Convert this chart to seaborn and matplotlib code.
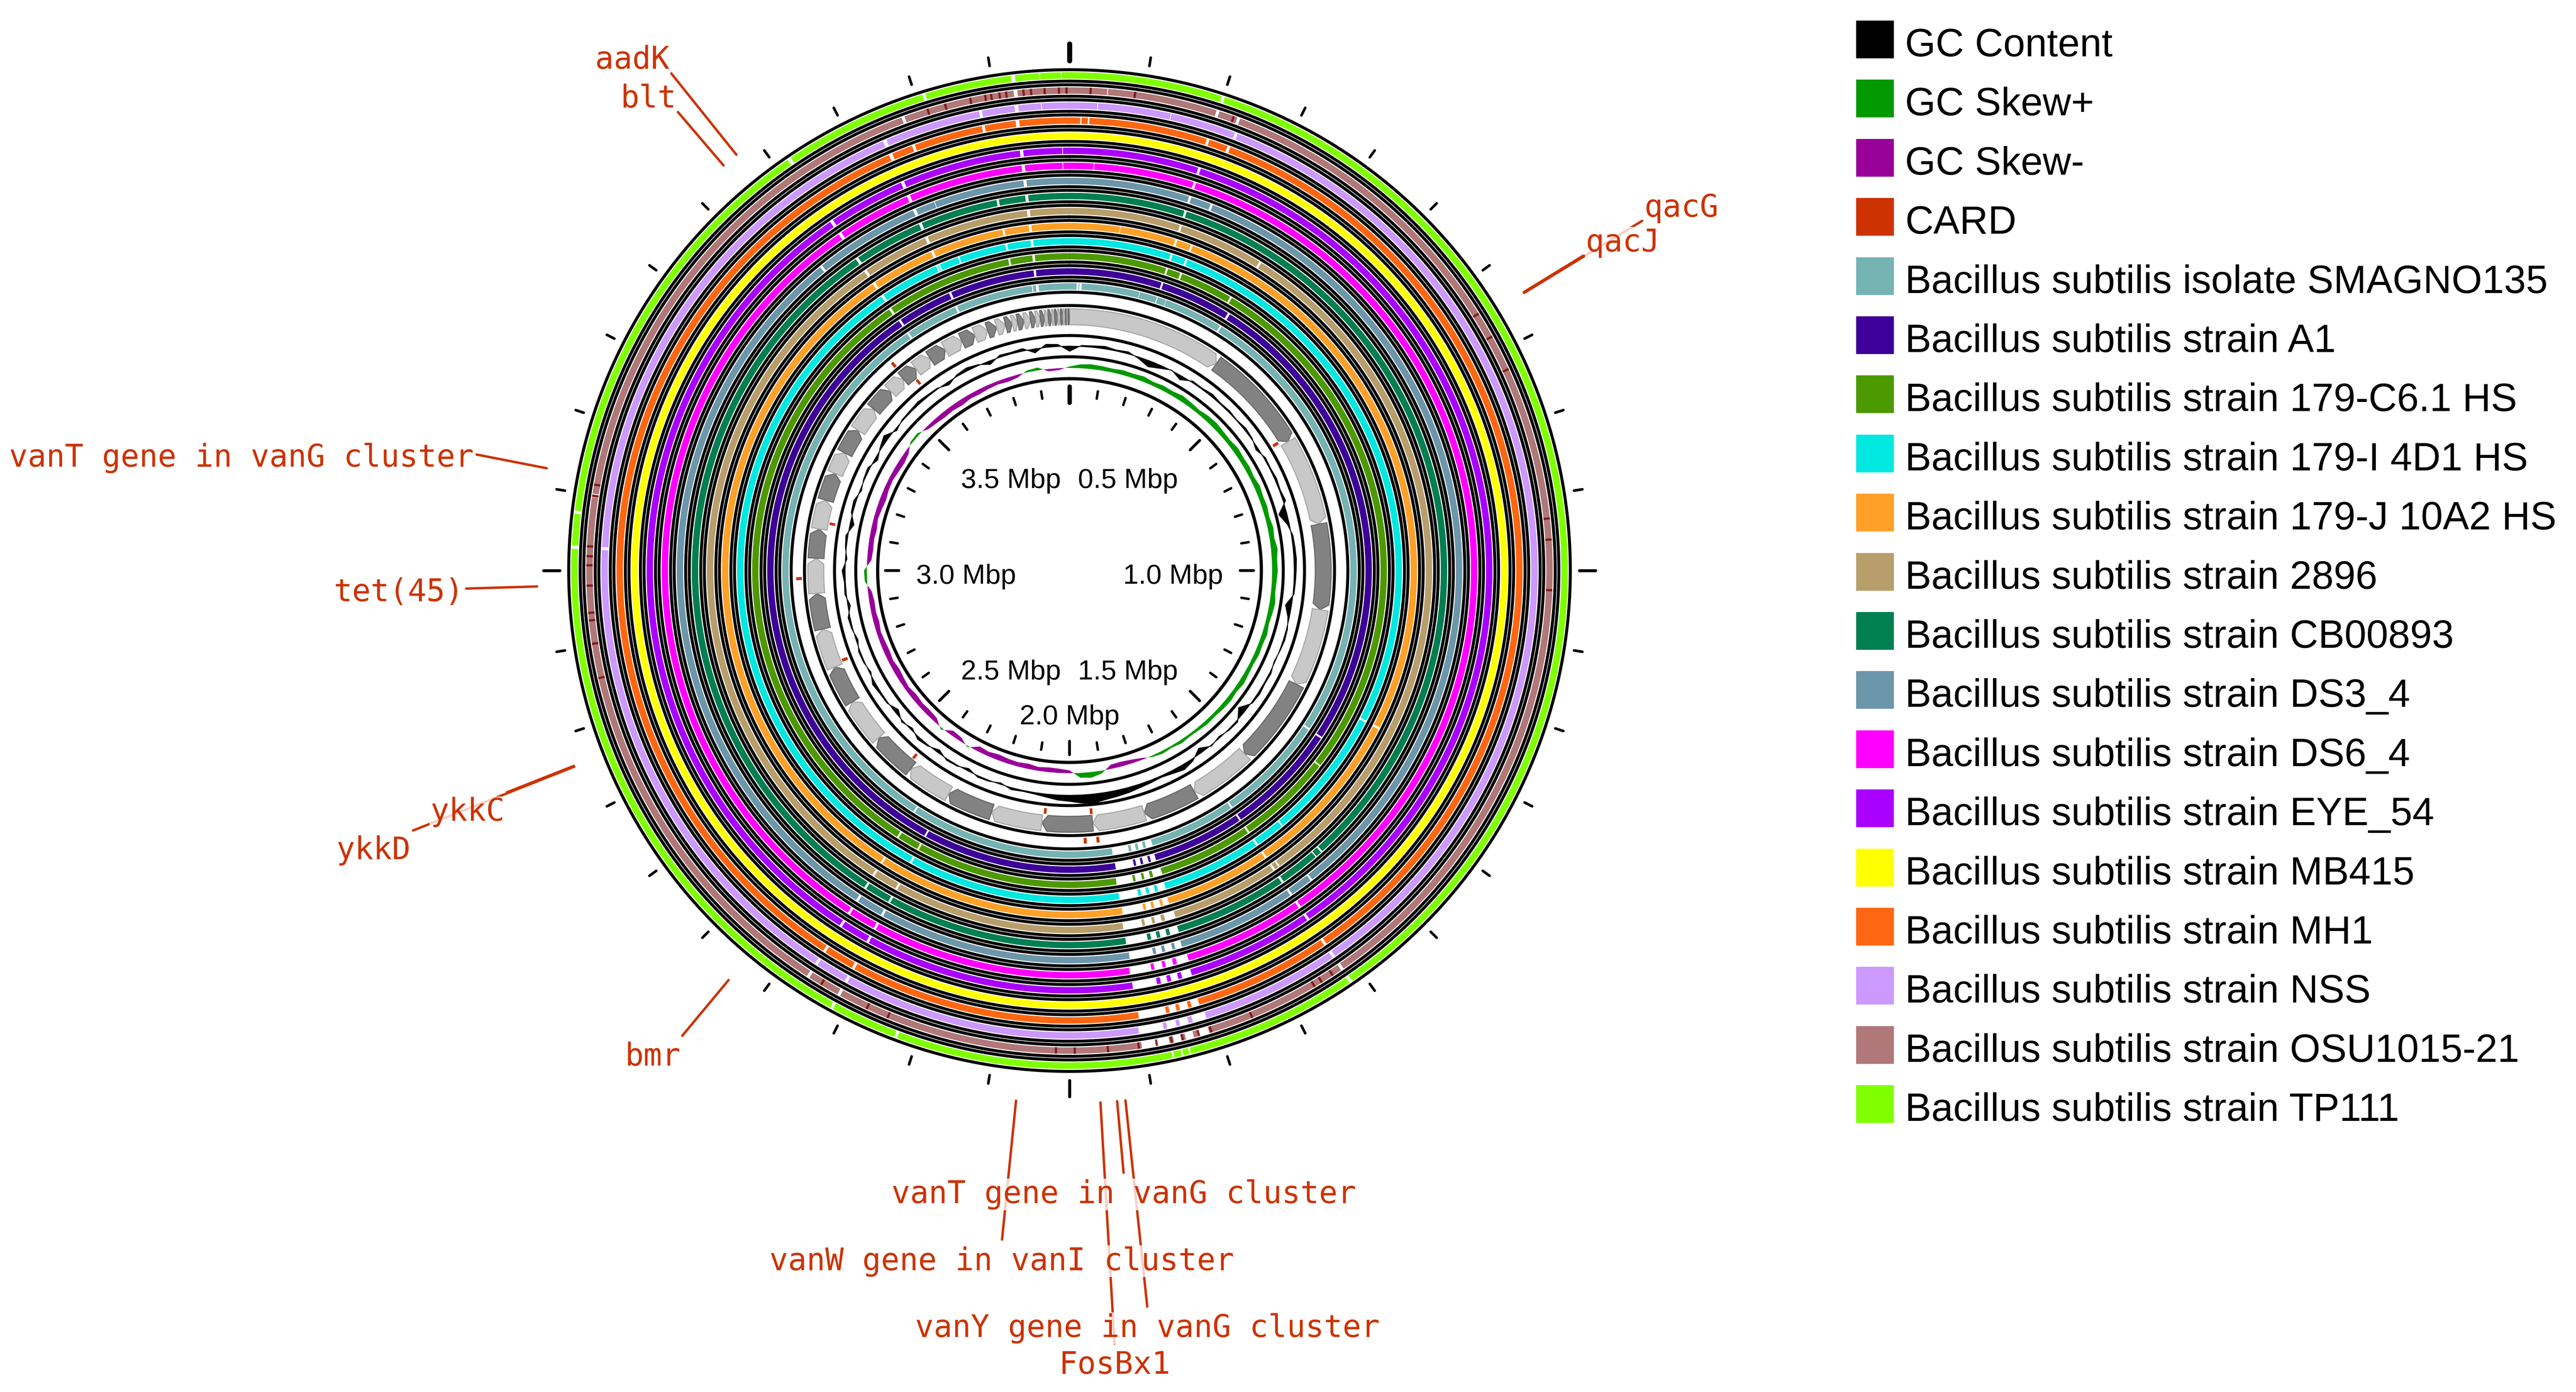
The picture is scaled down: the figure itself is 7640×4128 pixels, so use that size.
import numpy as np
import seaborn as sns
import matplotlib.pyplot as plt
from matplotlib.patches import Rectangle

sns.set_theme(style="white")
plt.rcParams['font.family'] = ['Liberation Sans', 'DejaVu Sans']

# contigs of the reference assembly in map order (kb)
contig_kb = [393, 268, 222, 216, 197, 219, 158, 137, 132, 128, 129, 117, 114, 112, 112,
             98, 100, 91, 88, 74, 74, 71, 57, 66, 66, 62, 44, 41, 44, 44, 47, 36, 34,
             24, 23, 17, 14, 17, 16, 13, 12, 11, 9, 9, 7, 8, 7, 6, 6, 4, 3, 3]
genome_kb = sum(contig_kb)

# GC content deviation from mean, 120 windows
gc_dev = [-10, 2, 3, 5, 2, 4, -3, -12, -6, 1, -8, 3, 2, 5, 2, 3, 1, 4, 2, -5,
          3, 2, 4, 2, 5, -16, -4, 3, 4, 5, 4, 3, 2, -12, -3, 2, 3, 1, -2, 3,
          2, 4, 2, -14, 3, 2, -3, 2, -10, 4, 10, 6, 3, 5, 7, 10, 12, 14, 18, 16,
          12, 10, 6, 3, 2, 4, -3, 2, 3, -5, 2, 3, -6, 2, 5, -4, 3, -8, 2, 3,
          6, -3, 2, 3, -4, 2, 4, -5, 3, 2, 6, -3, 2, 4, -8, 3, 5, -3, 2, 4,
          -6, 3, 10, -4, 2, 3, 5, 3, 2, -6, 3, 6, 2, -7, 4, 3, 5, -8, 6, 4]

# GC skew, 120 windows
gc_skew = [3, 8, 10, 9, 8, 10, 9, 11, 8, 10, 9, 12, 10, 8, 11, 12, 10, 9, 12, 10,
           11, 9, 12, 10, 11, 9, 12, 10, 14, 11, 12, 10, 9, 12, 10, 8, 11, 9, 10, 8,
           9, 11, 8, 10, 9, 7, 8, 6, 5, 7, 4, 6, 3, -4, -8, -10, -9, 6, 12, 10,
           -6, -9, -10, -8, -11, -9, -10, -12, -9, -11, 3, -8, -10, 4, -9, -11, -10, -12, -9, -11,
           -13, -10, -12, -11, -9, -12, -10, -11, -8, 5, 6, -9, -11, -10, -12, -9, -11, -13, -10, -9,
           -11, -12, -8, 4, 5, -6, -9, -11, -10, -12, -9, -10, -8, -7, -9, -6, 4, 6, -5, -4]

# CARD hits
card_names = ["aadK", "blt", "qacJ", "qacG", "vanT gene in vanG cluster", "tet(45)",
              "ykkC", "ykkD", "bmr", "vanW gene in vanI cluster", "FosBx1",
              "vanT gene in vanG cluster", "vanY gene in vanG cluster"]
card_kb = [3570, 3550, 650, 651, 3123, 2981, 2761, 2760, 2442, 2064, 1963, 1943, 1933]
card_strand = [-1, 1, -1, -1, -1, 1, -1, -1, -1, -1, 1, -1, 1]
card_label_r = [1889, 1788, 1787, 1990, 1792, 1790, 1793, 2094, 1795, 1994, 2296, 1793, 2195]

strain_names = ["Bacillus subtilis isolate SMAGNO135", "Bacillus subtilis strain A1",
                "Bacillus subtilis strain 179-C6.1 HS", "Bacillus subtilis strain 179-I 4D1 HS",
                "Bacillus subtilis strain 179-J 10A2 HS", "Bacillus subtilis strain 2896",
                "Bacillus subtilis strain CB00893", "Bacillus subtilis strain DS3_4",
                "Bacillus subtilis strain DS6_4", "Bacillus subtilis strain EYE_54",
                "Bacillus subtilis strain MB415", "Bacillus subtilis strain MH1",
                "Bacillus subtilis strain NSS", "Bacillus subtilis strain OSU1015-21",
                "Bacillus subtilis strain TP111"]
strain_colors = ["#76b3b3", "#3d0099", "#4d9900", "#00e8e0", "#ffa028", "#b89e6b",
                 "#007f52", "#6c96aa", "#ff00ff", "#aa00ff", "#ffff00", "#ff6611",
                 "#cc99ff", "#b07878", "#7fff00"]

# regions without BLAST hits, per strain (kb)
gaps_smagno = [(16, 20), (22, 27), (157, 158), (197, 199), (218, 219), (351, 355), (1370, 1374),
               (1616, 1620), (1813, 1828), (1834, 1845), (1851, 1861), (1867, 1904),
               (2362, 2366), (3617, 3622), (3739, 3744), (3916, 3918), (3925, 3931)]
gaps_a1 = [(197, 201), (351, 356), (1371, 1375), (1616, 1620), (1815, 1826), (1831, 1843),
           (1848, 1858), (1863, 1902), (2315, 2319), (3618, 3623), (3739, 3744), (3924, 3929)]
gaps_c61 = [(197, 201), (227, 231), (338, 342), (1420, 1423), (1616, 1620), (1811, 1830),
            (1836, 1848), (1853, 1866), (1871, 1905), (2315, 2319), (2362, 2366),
            (3615, 3620), (3876, 3880), (3925, 3930)]
gaps_179i = [(197, 201), (227, 231), (1298, 1302), (1556, 1559), (1616, 1620), (1813, 1828),
             (1834, 1845), (1851, 1861), (1867, 1904), (2315, 2319), (3617, 3622),
             (3737, 3740), (3742, 3745), (3782, 3785), (3876, 3880), (3925, 3930)]
gaps_179j = [(93, 94), (197, 201), (227, 231), (1298, 1302), (1616, 1620), (1815, 1826),
             (1831, 1843), (1848, 1858), (1863, 1902), (2362, 2366), (3617, 3622),
             (3739, 3744), (3876, 3880), (3925, 3930)]
gaps_2896 = [(197, 201), (351, 355), (1606, 1609), (1616, 1620), (1811, 1830), (1836, 1848),
             (1853, 1866), (1871, 1905), (2315, 2319), (2362, 2366), (3617, 3622),
             (3739, 3744), (3925, 3930)]
gaps_cb = [(197, 201), (1533, 1536), (1546, 1548), (1616, 1620), (1813, 1828), (1834, 1845),
           (1851, 1861), (1867, 1904), (2315, 2319), (2362, 2366), (3617, 3622),
           (3739, 3744), (3876, 3880), (3925, 3930)]
gaps_ds3 = [(197, 201), (234, 238), (1576, 1579), (1616, 1620), (1815, 1826), (1831, 1843),
            (1848, 1858), (1863, 1902), (2315, 2319), (2362, 2366), (3562, 3566),
            (3739, 3744), (3776, 3777), (3925, 3930)]
gaps_ds6 = [(38, 39), (197, 201), (1616, 1620), (1811, 1830), (1836, 1848), (1853, 1866),
            (1871, 1905), (2315, 2319), (2362, 2366), (3617, 3622), (3739, 3744),
            (3925, 3930), (3989, 3990)]
gaps_eye = [(197, 201), (1616, 1620), (1813, 1828), (1834, 1845), (1851, 1861), (1867, 1904),
            (2315, 2319), (2362, 2366), (3617, 3622), (3739, 3744), (3925, 3930), (3989, 3990)]
gaps_mb415 = []
gaps_mh1 = [(15, 17), (26, 28), (196, 200), (227, 231), (1616, 1620), (1815, 1826),
            (1831, 1843), (1848, 1858), (1863, 1902), (2315, 2319), (2362, 2366),
            (3739, 3744), (3774, 3778), (3876, 3880), (3924, 3929)]
gaps_nss = [(38, 39), (139, 140), (230, 234), (1616, 1620), (1811, 1830), (1836, 1848),
            (1853, 1866), (1871, 1905), (2315, 2319), (2362, 2366), (3028, 3032),
            (3739, 3744), (3876, 3880), (3925, 3930), (3961, 3962)]
gaps_osu = [(50, 51), (197, 201), (226, 230), (1616, 1620), (1813, 1828), (1834, 1845),
            (1851, 1861), (1867, 1904), (2315, 2319), (2362, 2366), (3097, 3098),
            (3101, 3102), (3774, 3778), (3926, 3931)]
gaps_tp111 = [(198, 202), (1616, 1620), (1843, 1845), (1853, 1855), (1865, 1867),
              (2225, 2229), (2315, 2319), (3028, 3032), (3073, 3077), (3617, 3622),
              (3809, 3813), (3925, 3930), (3961, 3962), (3989, 3990)]
strain_gaps = [gaps_smagno, gaps_a1, gaps_c61, gaps_179i, gaps_179j, gaps_2896, gaps_cb,
               gaps_ds3, gaps_ds6, gaps_eye, gaps_mb415, gaps_mh1, gaps_nss, gaps_osu, gaps_tp111]

# low identity hits in OSU1015-21 (kb)
osu_low_kb = [28, 87, 221, 643, 678, 726, 931, 959, 1026, 1633, 1650, 1661, 1753, 1810,
              1827, 1849, 1864, 1884, 1908, 1949, 1993, 2018, 2246, 2276, 2344, 2857, 2903,
              2934, 2944, 2980, 3007, 3019, 3032, 3099, 3114, 3810, 3834, 3868, 3888, 3896,
              3907, 3916, 3939, 3949, 3967, 3986, 3996]

legend_labels = ["GC Content", "GC Skew+", "GC Skew-", "CARD"] + strain_names
legend_colors = ["#000000", "#009900", "#990099", "#cc3300"] + strain_colors

card_color = "#cc3300"

# figure, polar axes centred on the map
W, H, DPI = 7640, 4128, 200
fig = plt.figure(figsize=(W / DPI, H / DPI), dpi=DPI)
R = 1600
cx, cy = 3172, 1692
ax = fig.add_axes([(cx - R) / W, (H - cy - R) / H, 2 * R / W, 2 * R / H], projection='polar')
ax.set_theta_zero_location('N')
ax.set_theta_direction(-1)
ax.set_ylim(0, R)
ax.set_axis_off()


def th(kb):
    return np.asarray(kb, dtype=float) / genome_kb * 2 * np.pi


full = np.linspace(0, 2 * np.pi, 2000)
LW = 3.2


def ring(r, lw=LW):
    ax.plot(full, np.full_like(full, r), color='black', lw=lw, zorder=2)


# scale circle + ticks
ring(569, 3.4)
for kb in range(0, genome_kb, 100):
    t = th(kb)
    if kb == 0:
        r0, r1, lw = 498, 546, 4.6
    elif kb % 500 == 0:
        r0, r1, lw = 506, 546, 3.0
    else:
        r0, r1, lw = 516, 538, 2.6
    ax.plot([t, t], [r0, r1], color='black', lw=lw, solid_capstyle='round', zorder=3)
    if kb == 0:
        r0, r1, lw = 1512, 1562, 5.4
    elif kb % 1000 == 0:
        r0, r1, lw = 1512, 1560, 3.2
    else:
        r0, r1, lw = 1515, 1540, 2.8
    ax.plot([t, t], [r0, r1], color='black', lw=lw, solid_capstyle='round', zorder=3, clip_on=False)

for kb in range(500, genome_kb, 500):
    t = th(kb)
    deg = np.degrees(t)
    if abs(deg - 180) < 10:
        ha = 'center'
    elif deg < 180:
        ha = 'right'
    else:
        ha = 'left'
    c = np.cos(t)
    va = 'top' if c > 0.3 else ('bottom' if c < -0.3 else 'center')
    ax.annotate(f"{kb / 1000:.1f} Mbp", xy=(t, 455), xytext=(0, -6.5), textcoords='offset points',
                ha=ha, va=va, fontsize=29.5, color='black', annotation_clip=False)

# GC skew
win = np.arange(len(gc_skew) + 1) * genome_kb / len(gc_skew)
sk = 1.4 * np.array(gc_skew + gc_skew[:1], dtype=float)
ax.fill_between(th(win), 601, 601 + sk, where=sk >= 0, interpolate=True, color='#009900', lw=0, zorder=2)
ax.fill_between(th(win), 601, 601 + sk, where=sk <= 0, interpolate=True, color='#990099', lw=0, zorder=2)
ring(634)

# GC content
gc = 1.5 * np.array(gc_dev + gc_dev[:1], dtype=float)
ax.fill_between(th(win), 666, 666 + gc, color='black', lw=0.8, edgecolor='black', zorder=2)
ring(697)

# contigs as arrows
bounds = np.concatenate([[0], np.cumsum(contig_kb)])
for j in range(len(contig_kb)):
    t0, t1 = th(bounds[j]), th(bounds[j + 1] - 0.6)
    head = min(th(14), 0.6 * (t1 - t0))
    n = 60
    a_in = np.linspace(t0, t1 - head, n)
    a_out = a_in[::-1]
    thetas = np.concatenate([a_in, [t1], a_out])
    rs = np.concatenate([np.full(n, 729), [752], np.full(n, 776)])
    if j % 2 == 0:
        fc, ec = '#c8c8c8', '#a9a9a9'
    else:
        fc, ec = '#828282', '#6a6a6a'
    ax.fill(thetas, rs, facecolor=fc, edgecolor=ec, lw=1.2, zorder=2)
ring(786)

# CARD marks
strand = np.array(card_strand)
ax.bar(th(card_kb), 17, width=th(7), bottom=np.where(strand > 0, 794, 708),
       color=card_color, linewidth=0, zorder=3)

# BLAST rings
for i, (col, gaps) in enumerate(zip(strain_colors, strain_gaps)):
    r0 = 833 + 44.7 * i
    edges = [0] + [g for gap in sorted(gaps) for g in gap] + [genome_kb]
    s = np.array(edges[0::2], dtype=float)
    e = np.array(edges[1::2], dtype=float)
    ax.bar(th((s + e) / 2), 19, width=th(e - s), bottom=r0, color=col, linewidth=0, zorder=2)
    if i == 13:
        ax.bar(th(osu_low_kb), 19, width=th(3), bottom=r0, color='#7a0c0c', alpha=0.85,
               linewidth=0, zorder=2)
    ring(r0 - 7.5)
    ring(r0 + 26.5)

# CARD labels with leader lines
for name, kb, lr in zip(card_names, card_kb, card_label_r):
    t = float(th(kb))
    ax.plot([t, t], [1580, lr], color=card_color, lw=2.6, solid_capstyle='round',
            clip_on=False, zorder=5)
    deg = np.degrees(t)
    if abs(deg - 180) < 15:
        ha = 'center'
    elif deg < 180:
        ha = 'left'
    else:
        ha = 'right'
    c = np.cos(t)
    va = 'bottom' if c > 0.3 else ('top' if c < -0.3 else 'center')
    ax.annotate(name, xy=(t, lr + 8), xytext=(0, -4), textcoords='offset points',
                ha=ha, va=va, family=['DejaVu Sans Mono'], fontsize=33,
                color=card_color, zorder=6, annotation_clip=False,
                bbox=dict(facecolor='white', alpha=0.78, edgecolor='none', pad=0.5))

# legend
lax = fig.add_axes([0, 0, 1, 1])
lax.set_xlim(0, W)
lax.set_ylim(H, 0)
lax.set_axis_off()
for k, (lab, col) in enumerate(zip(legend_labels, legend_colors)):
    yc = 117 + 175.4 * k
    lax.add_patch(Rectangle((5505, yc - 56), 112, 112, color=col, lw=0))
    lax.text(5650, yc + 50, lab, fontsize=42, ha='left', va='baseline', color='black')

fig.savefig('out.png', dpi=DPI)
